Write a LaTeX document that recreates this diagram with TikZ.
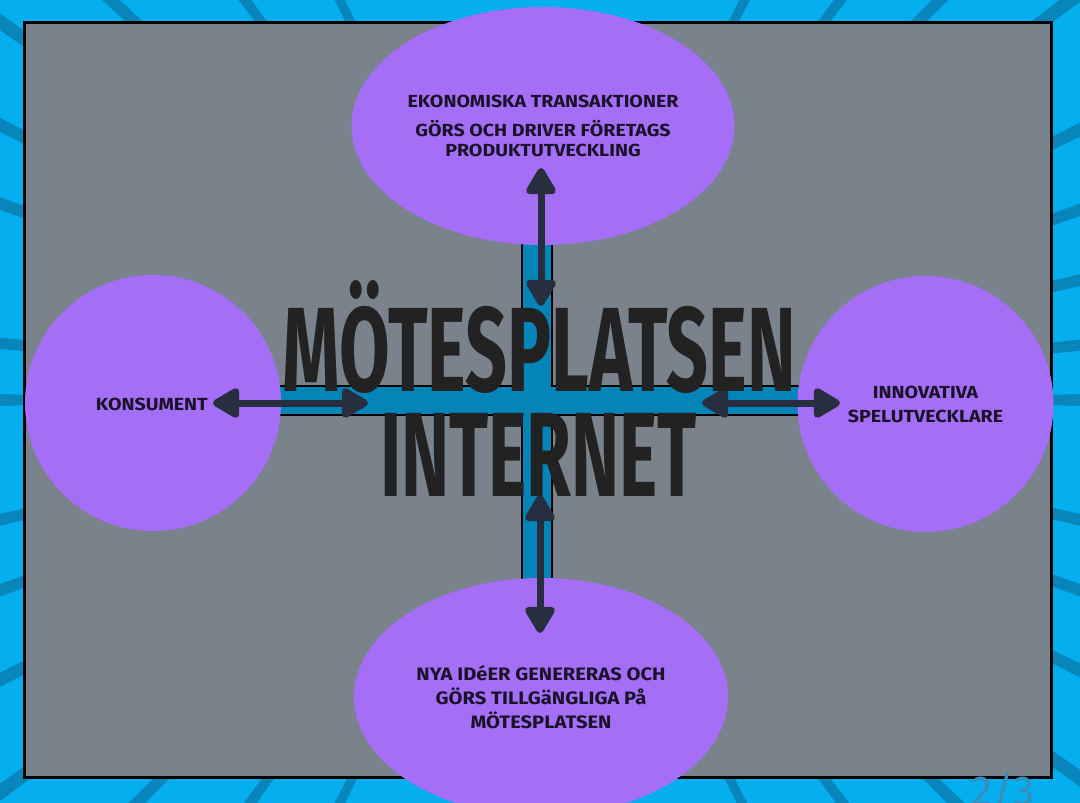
\documentclass[tikz,border=0pt]{standalone}
\usepackage{fontspec}
\setmainfont{Fira Sans}
\newfontfamily\smallfnt{Fira Sans}[FakeStretch=1.12]
\newfontfamily\titlefnt{Fira Sans}[FakeStretch=1.0]
\usetikzlibrary{shapes.geometric,arrows.meta}
\definecolor{bgblue}{HTML}{05AEEE}
\definecolor{raycol}{HTML}{0886BB}
\definecolor{greybg}{HTML}{7A828C}
\definecolor{crosscol}{HTML}{0584B8}
\definecolor{bubblecol}{HTML}{A56EF6}
\definecolor{arrcol}{HTML}{262E40}
\definecolor{txtcol}{HTML}{1A1228}
\definecolor{titlecol}{HTML}{222222}
\definecolor{pagecol}{HTML}{3A8DB8}
\tikzset{
  bubble/.style={fill=bubblecol, draw=none, text=txtcol, align=center,
    font=\smallfnt\bfseries\fontsize{17.5}{20}\selectfont, inner sep=0pt},
  twoarrow/.style={draw=arrcol, line width=7pt,
    {Triangle[width=33pt,length=30pt,round]}-{Triangle[width=33pt,length=30pt,round]}},
  titletext/.style={inner sep=0pt, anchor=base, text=titlecol}
}
\begin{document}
\begin{tikzpicture}[x=1pt,y=-1pt]
\useasboundingbox (0,0) rectangle (1080,803);
\clip (0,0) rectangle (1080,803);
% background with rays
\fill[bgblue] (0,0) rectangle (1080,803);
\begin{scope}[shift={(540,400)}]
\foreach \a in {0,5.8,12.5,19.4,26.6,37,45,53.1,62.9,116.6,126.4,137,145,153,160,174,180,192.5,199.4,207.4,216,225,234.3,243.6,296.6,306.9,315.9,325,333.4,340.6,347.5}
  \fill[raycol] (0,0) -- (\a-0.6:900pt) -- (\a+0.6:900pt) -- cycle;
\end{scope}
% grey board
\draw[line width=3pt, fill=greybg] (24,22) rectangle (1051,777);
% blue cross
\draw[fill=crosscol, line width=2pt]
  (522,200) -- (522,386) -- (200,386) -- (200,415) -- (522,415) -- (522,620)
  -- (552,620) -- (552,415) -- (880,415) -- (880,386) -- (552,386) -- (552,200) -- cycle;
% bubbles
\node[bubble, ellipse, minimum width=380pt, minimum height=238pt] (eko) at (543,126)
  {EKONOMISKA TRANSAKTIONER\\[9pt]GÖRS OCH DRIVER FÖRETAGS\\PRODUKTUTVECKLING};
\node[bubble, ellipse, minimum width=374pt, minimum height=238pt,
  font=\smallfnt\bfseries\fontsize{18}{24}\selectfont] (nya) at (541,697)
  {NYA IDéER GENERERAS OCH\\GÖRS TILLGäNGLIGA På\\MÖTESPLATSEN};
\node[bubble, circle, minimum size=256pt] (kons) at (153,403) {};
\node[text=txtcol, font=\smallfnt\bfseries\fontsize{17.5}{20}\selectfont, anchor=east, inner sep=0pt] (konstxt) at (208,404) {KONSUMENT};
\node[bubble, circle, minimum size=256pt, font=\smallfnt\bfseries\fontsize{17.5}{24}\selectfont] (inno) at (925.5,404)
  {INNOVATIVA\\SPELUTVECKLARE};
% arrows
\coordinate (t1) at (541,168); \coordinate (t2) at (541,306);
\coordinate (b1) at (540,495); \coordinate (b2) at (540,633);
\coordinate (l1) at (213,403); \coordinate (l2) at (368,403);
\coordinate (r1) at (702,403); \coordinate (r2) at (840,403);
\draw[twoarrow] (t1) -- (t2);
\draw[twoarrow] (b1) -- (b2);
\draw[twoarrow] (l1) -- (l2);
\draw[twoarrow] (r1) -- (r2);
% title
\node[titletext] (title1) at (539.5,391)
  {\resizebox{513pt}{\height}{\titlefnt\bfseries\fontsize{120}{120}\selectfont MÖTESPLATSEN}};
\node[titletext] (title2) at (538.5,496)
  {\raisebox{0pt}[82pt][0pt]{\resizebox{317pt}{\height}{\titlefnt\bfseries\fontsize{120}{120}\selectfont INTERNET}}};
% page number
\node[text=pagecol, font=\fontsize{42}{42}\selectfont, anchor=base, inner sep=0pt] (page) at (1003,805) {2/3};
\end{tikzpicture}
\end{document}
